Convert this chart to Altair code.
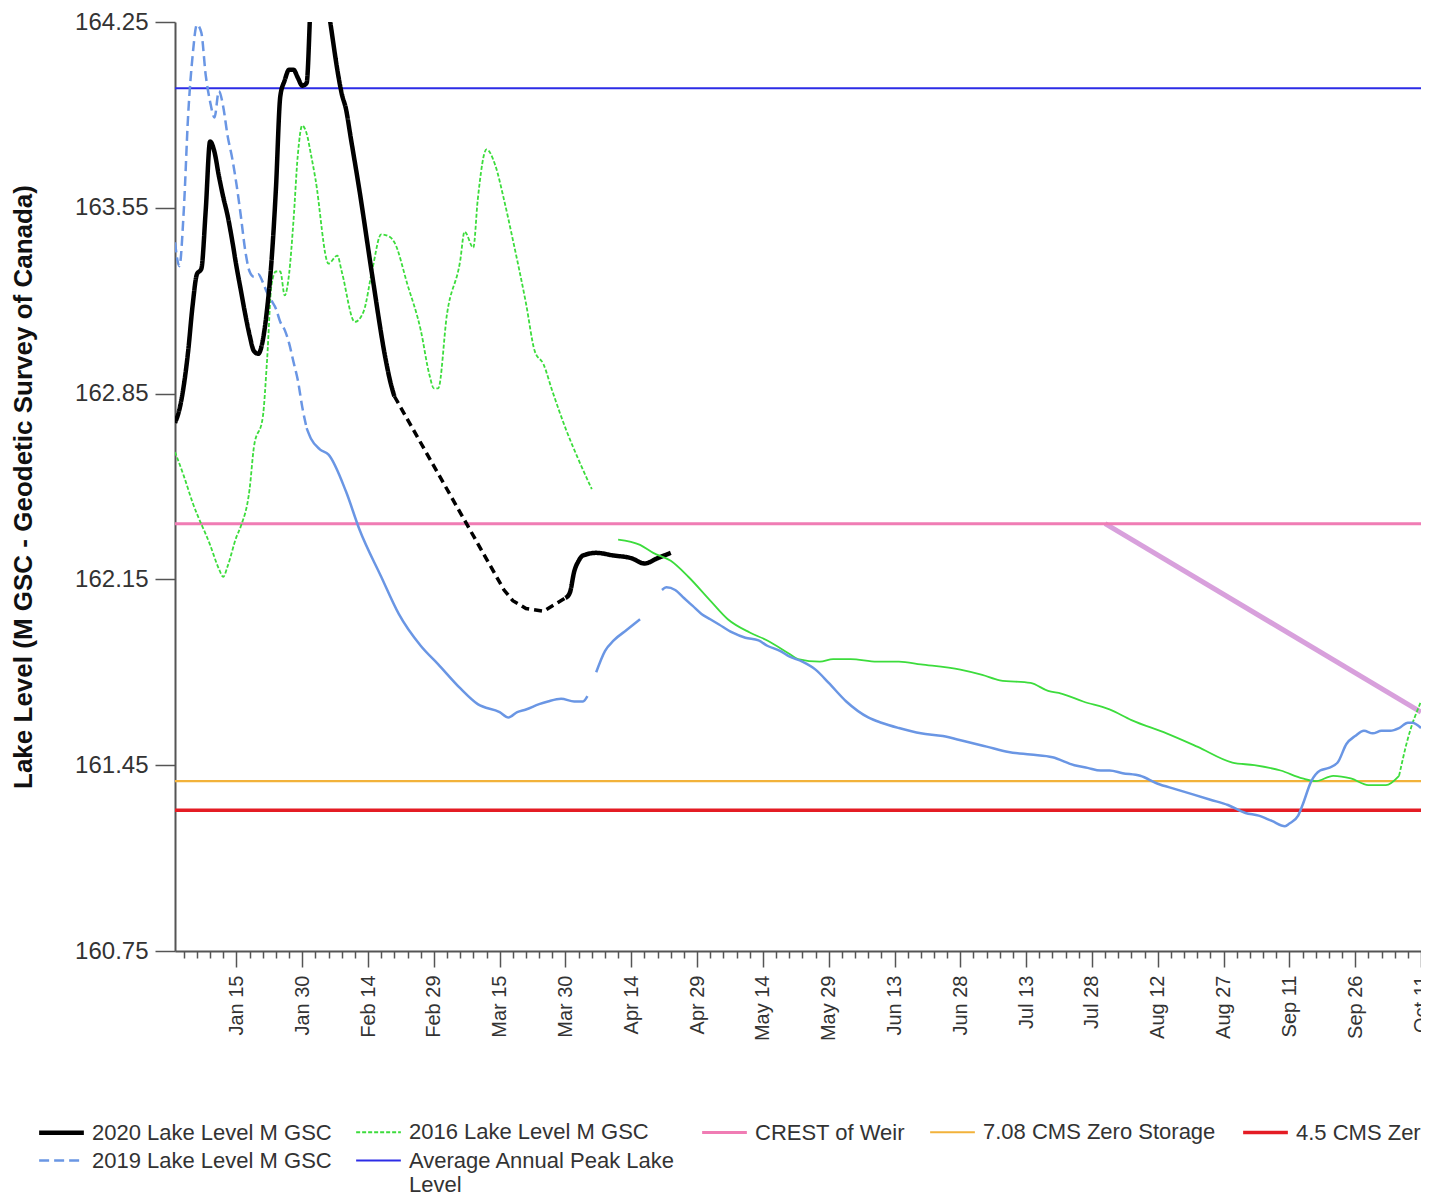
import altair as alt
import pandas as pd

BASE = pd.Timestamp("2020-01-01")

# ---- data (day = days since Jan 1, level = metres GSC) ----
l2020_a_day = [0, 1, 2, 3, 4, 5, 6, 7, 8, 9, 10, 11, 12, 13, 14, 15, 16, 17, 18, 19, 20, 21, 22, 23, 24,
               25, 26, 27, 28, 29, 30, 31, 32, 33, 34, 35, 36, 37, 38, 39, 40, 42, 45, 48, 49, 50]
l2020_a_val = [162.74, 162.79, 162.88, 163.01, 163.18, 163.30, 163.32, 163.54, 163.80, 163.76, 163.67,
               163.59, 163.52, 163.43, 163.33, 163.24, 163.15, 163.07, 163.01, 163.00, 163.05, 163.17,
               163.35, 163.62, 163.97, 164.03, 164.07, 164.07, 164.04, 164.01, 164.02, 164.35, 164.50,
               164.55, 164.45, 164.30, 164.18, 164.07, 163.98, 163.92, 163.82, 163.62, 163.29, 162.98,
               162.90, 162.84]
l2020_gap_day = [50, 75, 77, 80, 84, 89]
l2020_gap_val = [162.84, 162.11, 162.07, 162.04, 162.03, 162.08]
l2020_b_day = [89, 90, 91, 92, 93, 96, 100, 104, 107, 110, 113]
l2020_b_val = [162.08, 162.10, 162.18, 162.22, 162.24, 162.25, 162.24, 162.23, 162.21, 162.23, 162.25]

l2019_dash_day = list(range(0, 31))
l2019_dash_val = [163.42, 163.33, 163.54, 163.90, 164.12, 164.24, 164.21, 164.05, 163.95, 163.89, 163.99,
                  163.93, 163.82, 163.74, 163.64, 163.52, 163.39, 163.31, 163.29, 163.30, 163.27, 163.23,
                  163.20, 163.17, 163.12, 163.09, 163.04, 162.97, 162.90, 162.80, 162.72]
l2019_a_day = [30, 31, 33, 35, 39, 42, 47, 51, 56, 60, 65, 69, 74, 76, 78, 80, 83, 85, 88, 91, 93, 94]
l2019_a_val = [162.72, 162.68, 162.64, 162.62, 162.48, 162.34, 162.16, 162.02, 161.90, 161.83, 161.74,
               161.68, 161.65, 161.63, 161.65, 161.66, 161.68, 161.69, 161.70, 161.69, 161.69, 161.71]
l2019_b_day = [96, 98, 100, 103, 106]
l2019_b_val = [161.80, 161.88, 161.92, 161.96, 162.00]
l2019_c_day = [111, 112, 114, 116, 118, 120, 122, 124, 127, 130, 133, 135, 138, 140, 143, 146, 149, 153,
               158, 161, 165, 170, 175, 180, 185, 190, 195, 200, 205, 208, 211, 213, 216, 220, 224, 228,
               232, 236, 240, 244, 247, 250, 253, 254, 256, 257, 259, 261, 263, 265, 267, 269, 271, 273,
               275, 277, 279, 281, 282, 284]
l2019_c_val = [162.11, 162.12, 162.11, 162.08, 162.05, 162.02, 162.00, 161.98, 161.95, 161.93, 161.92,
               161.90, 161.88, 161.86, 161.84, 161.81, 161.76, 161.69, 161.63, 161.61, 161.59, 161.57,
               161.56, 161.54, 161.52, 161.50, 161.49, 161.48, 161.45, 161.44, 161.43, 161.43, 161.42,
               161.41, 161.38, 161.36, 161.34, 161.32, 161.30, 161.27, 161.26, 161.24, 161.22, 161.23,
               161.26, 161.30, 161.39, 161.43, 161.44, 161.46, 161.53, 161.56, 161.58, 161.57, 161.58,
               161.58, 161.59, 161.61, 161.61, 161.59]

l2016_a_day = [0, 2, 4, 8, 10, 11, 12, 14, 15, 17, 18, 20, 21, 22, 23, 24, 25, 26, 27, 28, 29, 30, 31, 32,
               35, 37, 38, 41, 43, 45, 47, 49, 50, 53, 56, 58, 59, 60, 62, 65, 66, 68, 69, 71, 73, 75, 77,
               80, 82, 84, 86, 89, 92, 95]
l2016_a_val = [162.63, 162.54, 162.44, 162.28, 162.19, 162.16, 162.20, 162.31, 162.35, 162.49, 162.65,
               162.76, 162.98, 163.26, 163.31, 163.31, 163.22, 163.30, 163.50, 163.75, 163.86, 163.83,
               163.75, 163.66, 163.34, 163.37, 163.31, 163.12, 163.16, 163.32, 163.45, 163.44, 163.42,
               163.26, 163.09, 162.92, 162.87, 162.87, 163.15, 163.35, 163.46, 163.40, 163.58, 163.77,
               163.71, 163.58, 163.43, 163.19, 163.01, 162.96, 162.86, 162.72, 162.60, 162.49]
l2016_b_day = [101, 106, 109, 113, 117, 122, 126, 131, 135, 140, 142, 147, 150, 154, 160, 165, 170, 179,
               184, 188, 195, 199, 202, 207, 213, 218, 226, 233, 241, 246, 252, 257, 260, 264, 268, 272,
               276, 279]
l2016_b_val = [162.30, 162.28, 162.25, 162.22, 162.16, 162.07, 162.00, 161.95, 161.92, 161.87, 161.85,
               161.84, 161.85, 161.85, 161.84, 161.84, 161.83, 161.81, 161.79, 161.77, 161.76, 161.73,
               161.72, 161.69, 161.66, 161.62, 161.57, 161.52, 161.46, 161.45, 161.43, 161.40, 161.39,
               161.41, 161.40, 161.375, 161.375, 161.41]
l2016_c_day = [279, 281, 284]
l2016_c_val = [161.41, 161.55, 161.69]

avg_peak = 164.00
crest_weir = 162.36
zero_708 = 161.39
zero_45 = 161.28
span_day = [0, 284]
drawdown_day = [212, 284]
drawdown_val = [162.36, 161.65]

y_ticks = [160.75, 161.45, 162.15, 162.85, 163.55, 164.25]

S2020 = "2020 Lake Level M GSC"
S2019 = "2019 Lake Level M GSC"
S2016 = "2016 Lake Level M GSC"
SAVG = "Average Annual Peak Lake Level"
SCREST = "CREST of Weir"
S708 = "7.08 CMS Zero Storage"
S45 = "4.5 CMS Zero Storage"

legend_order = [S2020, S2016, SCREST, S708, S45, S2019, SAVG]
legend_colors = ["#000000", "#3cdc3c", "#f07cb4", "#f2b23a", "#e41c24", "#6a96e4", "#2c2ce6"]
legend_dash = [[1, 0], [4, 2], [1, 0], [1, 0], [1, 0], [10, 5], [1, 0]]
line_widths = [4.5, 1.8, 3, 2.2, 3.5, 2.5, 2]


def to_dates(days):
    return [(BASE + pd.Timedelta(days=int(d))).strftime("%Y-%m-%d") for d in days]


def frame(series, seg, days, vals):
    return pd.DataFrame({"date": to_dates(days), "level": vals, "series": series, "seg": seg})


main_df = pd.concat([
    frame(SAVG, "h1", span_day, [avg_peak] * 2),
    frame(SCREST, "h2", span_day, [crest_weir] * 2),
    frame(S708, "h3", span_day, [zero_708] * 2),
    frame(S45, "h4", span_day, [zero_45] * 2),
    frame(S2016, "a", l2016_a_day, l2016_a_val),
    frame(S2016, "c", l2016_c_day, l2016_c_val),
    frame(S2019, "dash", l2019_dash_day, l2019_dash_val),
    frame(S2020, "a", l2020_a_day, l2020_a_val),
    frame(S2020, "b", l2020_b_day, l2020_b_val),
], ignore_index=True)

gap2020_df = frame(S2020, "gap", l2020_gap_day, l2020_gap_val)
solid2019_df = pd.concat([
    frame(S2019, "a", l2019_a_day, l2019_a_val),
    frame(S2019, "b", l2019_b_day, l2019_b_val),
    frame(S2019, "c", l2019_c_day, l2019_c_val),
], ignore_index=True)
solid2016_df = frame(S2016, "b", l2016_b_day, l2016_b_val)
drawdown_df = frame("drawdown", "d", drawdown_day, drawdown_val)

# ---- axes ----
major_test = "(datum.value - utc(2020,0,15)) % 1296000000 == 0"
tick_days = list(range(2, 285, 3))
tick_values = [alt.DateTime(year=2020, month=int(t.month), date=int(t.day), utc=True)
               for t in (BASE + pd.to_timedelta(tick_days, unit="D"))]

x_enc = alt.X(
    "date:T",
    title=None,
    scale=alt.Scale(type="utc", domain=[alt.DateTime(year=2020, month=1, date=1, utc=True),
                                        alt.DateTime(year=2020, month=10, date=11, utc=True)]),
    axis=alt.Axis(
        values=tick_values,
        labelExpr=major_test + " ? utcFormat(datum.value, '%b %d') : ''",
        tickSize={"condition": {"test": major_test, "value": 16}, "value": 7},
        labelAngle=270, labelAlign="right", labelBaseline="middle",
        labelFontSize=20, labelPadding=8, labelOverlap=False, labelFlush=False, labelBound=False,
        grid=False, domainColor="#555555", domainWidth=2, tickColor="#555555", tickWidth=1.5,
        labelColor="#333333", labelFont="Liberation Sans",
    ),
)
y_enc = alt.Y(
    "level:Q",
    title="Lake Level (M GSC - Geodetic Survey of Canada)",
    scale=alt.Scale(domain=[160.75, 164.25], nice=False, zero=False),
    axis=alt.Axis(
        values=y_ticks, format=".2f", grid=False,
        labelFontSize=24, labelPadding=7, tickSize=20, labelFlush=False, labelOverlap=False,
        labelColor="#333333", labelFont="Liberation Sans",
        domainColor="#555555", domainWidth=2, tickColor="#555555", tickWidth=1.5,
        titleFont="Liberation Sans", titleFontSize=26, titleFontWeight="bold", titleColor="#111111",
        titlePadding=38,
    ),
)

legend = alt.Legend(
    title=None, orient="none", legendX=-127, legendY=1097, direction="horizontal", columns=5,
    labelFontSize=22, labelFont="Liberation Sans", labelColor="#333333", labelLimit=400,
    symbolType="M-2,0H2", symbolSize=500, symbolStrokeWidth=3.5, columnPadding=20, rowPadding=4,
    labelOffset=17, padding=0,
    labelExpr="datum.label == '" + SAVG + "' ? ['Average Annual Peak Lake', 'Level'] : datum.label",
)

main_layer = alt.Chart(main_df).mark_line(interpolate="monotone", clip=True).encode(
    x=x_enc, y=y_enc,
    color=alt.Color("series:N", scale=alt.Scale(domain=legend_order, range=legend_colors), legend=legend),
    strokeDash=alt.StrokeDash("series:N", scale=alt.Scale(domain=legend_order, range=legend_dash), legend=legend),
    strokeWidth=alt.StrokeWidth("series:N",
                                scale=alt.Scale(type="ordinal", domain=legend_order, range=line_widths),
                                legend=None),
    detail="seg:N",
)

gap_layer = alt.Chart(gap2020_df).mark_line(clip=True, strokeCap="butt").encode(
    x=x_enc, y=y_enc, color=alt.value("#000000"), strokeDash=alt.value([8, 5]), strokeWidth=alt.value(3.5),
)
blue_layer = alt.Chart(solid2019_df).mark_line(interpolate="monotone", clip=True).encode(
    x=x_enc, y=y_enc, detail="seg:N", color=alt.value("#6a96e4"), strokeWidth=alt.value(2.5),
)
green_layer = alt.Chart(solid2016_df).mark_line(interpolate="monotone", clip=True).encode(
    x=x_enc, y=y_enc, color=alt.value("#3cdc3c"), strokeWidth=alt.value(1.8),
)
draw_layer = alt.Chart(drawdown_df).mark_line(clip=True).encode(
    x=x_enc, y=y_enc, color=alt.value("#d8a0dc"), strokeWidth=alt.value(5),
)

chart = alt.layer(draw_layer, main_layer, green_layer, blue_layer, gap_layer).properties(
    width=1246, height=929,
    autosize=alt.AutoSizeParams(type="none"),
    padding={"left": 167, "top": 14, "right": 0, "bottom": 246},
).configure_view(stroke=None)

chart.save("out.html", embed_options={"renderer": "svg", "actions": False})
